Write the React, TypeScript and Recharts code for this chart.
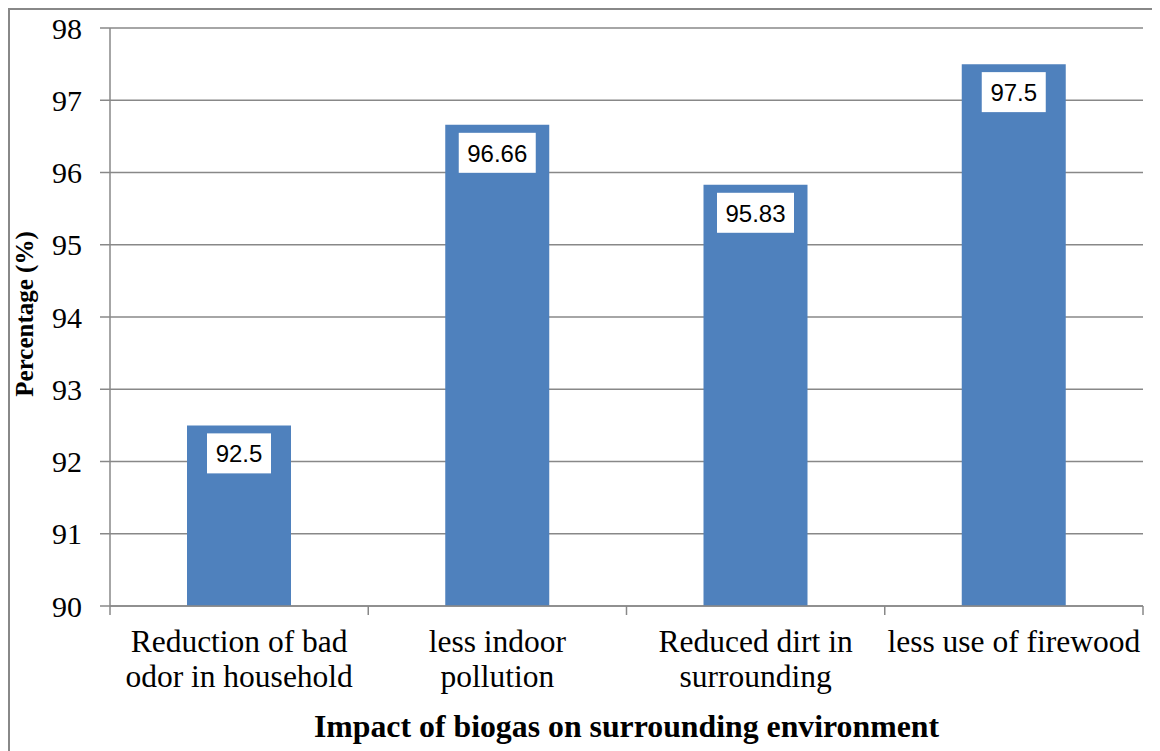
import { Bar, BarChart, CartesianGrid, Label, LabelList, XAxis, YAxis } from "recharts"

const categories = [
  "Reduction of bad\nodor in household",
  "less indoor\npollution",
  "Reduced dirt in\nsurrounding",
  "less use of firewood",
]
const percentages = [92.5, 96.66, 95.83, 97.5]
const yTicks = [90, 91, 92, 93, 94, 95, 96, 97, 98]

const data = categories.map((name, i) => ({ name, value: percentages[i] }))

const GRAY = "#888888"
const BLUE = "#4F81BD"
const SERIF = '"Liberation Serif", "Times New Roman", serif'
const SANS = '"Liberation Sans", Arial, sans-serif'

function CategoryTick(props: any) {
  const { x, y, payload, index, width } = props
  const band = (typeof width === "number" && width > 0 ? width : 1033) / categories.length
  const lines = String(payload.value).split("\n")
  return (
    <g>
      <line x1={x - band / 2} x2={x - band / 2} y1={y} y2={y + 9} stroke={GRAY} strokeWidth={1.5} />
      {index === categories.length - 1 && (
        <line x1={x + band / 2} x2={x + band / 2} y1={y} y2={y + 9} stroke={GRAY} strokeWidth={1.5} />
      )}
      <text x={x} y={y + 46} textAnchor="middle" fontFamily={SERIF} fontSize={31.5} fill="#000">
        {lines.map((line, i) => (
          <tspan key={i} x={x} dy={i === 0 ? 0 : 35}>
            {line}
          </tspan>
        ))}
      </text>
    </g>
  )
}

function ValueBox(props: any) {
  const { x, y, width, value } = props
  const text = String(value)
  const digits = text.replace(/[^0-9]/g, "").length
  const boxW = digits * 13 + 25
  const cx = x + width / 2
  return (
    <g>
      <rect x={cx - boxW / 2} y={y + 8} width={boxW} height={40} fill="#fff" />
      <text x={cx} y={y + 37} textAnchor="middle" fontFamily={SANS} fontSize={24} fill="#000">
        {text}
      </text>
    </g>
  )
}

export default function App() {
  return (
    <div style={{ width: 1148, height: 760, border: `2px solid ${GRAY}`, background: "#fff" }}>
      <BarChart width={1148} height={740} data={data} margin={{ top: 18, right: 15, bottom: 0, left: 0 }}>
        <CartesianGrid vertical={false} stroke={GRAY} strokeWidth={1.5} />
        <XAxis
          dataKey="name"
          height={144}
          tickSize={0}
          tickMargin={0}
          tickLine={false}
          axisLine={{ stroke: GRAY, strokeWidth: 1.5 }}
          tick={<CategoryTick />}
          interval={0}
        >
          <Label
            content={(p: any) => {
              const vb = p.viewBox || { x: 100, y: 596, width: 1033 }
              return (
                <text
                  x={vb.x + vb.width / 2}
                  y={vb.y + 131}
                  textAnchor="middle"
                  fontFamily={SERIF}
                  fontWeight="bold"
                  fontSize={31.8}
                  fill="#000"
                >
                  Impact of biogas on surrounding environment
                </text>
              )
            }}
          />
        </XAxis>
        <YAxis
          width={100}
          domain={[90, 98]}
          ticks={yTicks}
          allowDataOverflow
          tickSize={10}
          tickMargin={18}
          tickLine={{ stroke: GRAY, strokeWidth: 1.5 }}
          axisLine={{ stroke: GRAY, strokeWidth: 1.5 }}
          tick={{ fontFamily: SERIF, fontSize: 30, fill: "#000" }}
        >
          <Label
            content={(p: any) => {
              const vb = p.viewBox || { x: 0, y: 18, width: 100, height: 578 }
              const cx = vb.x + 23
              const cy = vb.y + vb.height / 2 - 3
              return (
                <text
                  x={cx}
                  y={cy}
                  transform={`rotate(-90 ${cx} ${cy})`}
                  textAnchor="middle"
                  fontFamily={SERIF}
                  fontWeight="bold"
                  fontSize={25}
                  fill="#000"
                >
                  Percentage (%)
                </text>
              )
            }}
          />
        </YAxis>
        <Bar dataKey="value" fill={BLUE} barSize={104} isAnimationActive={false}>
          <LabelList dataKey="value" content={<ValueBox />} />
        </Bar>
      </BarChart>
    </div>
  )
}
